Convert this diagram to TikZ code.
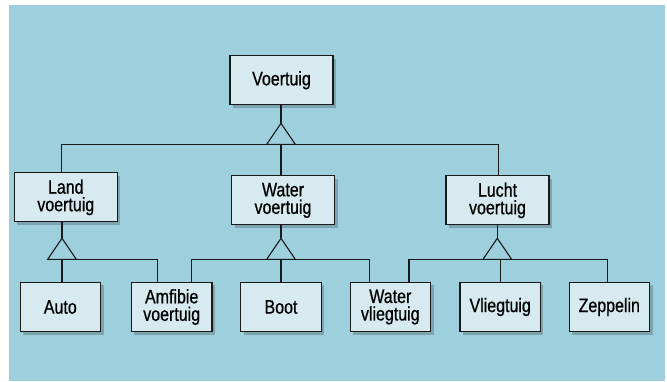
\documentclass[tikz,border=0pt]{standalone}
\usepackage{fontspec}
\setmainfont{Liberation Sans}[FakeStretch=0.82, FakeBold=0.7]
\definecolor{mybg}{HTML}{9DCFDC}
\definecolor{myboxfill}{HTML}{D6EAF0}
\usetikzlibrary{shadows, calc}
\tikzset{
	classnode/.style={
			rectangle,
			draw=black!90,
			line width=1.1pt,
			fill=myboxfill,
			drop shadow={shadow xshift=3pt, shadow yshift=-3pt, fill=black, opacity=0.2},
			minimum width=103pt,
			minimum height=49pt,
			inner sep=0pt,
			align=center,
			font=\fontsize{19.5pt}{17.5pt}\selectfont
		},
	leafnode/.style={
			classnode,
			minimum width=80.5pt,
			minimum height=49.7pt
		},
	genline/.style={
			draw=black!90,
			line width=1.1pt
		}
}
\begin{document}
\begin{tikzpicture}[x=1pt, y=-1pt]
\useasboundingbox (0,0) rectangle (667,381);
\fill[mybg] (9,5) rectangle (665,381);

\node[classnode] (vTop) at (281.5,80.3) {Voertuig};
\node[classnode] (vLand) at (65.8,197.4) {Land\\voertuig};
\node[classnode] (vWater) at (283,200.4) {Water\\voertuig};
\node[classnode] (vLucht) at (497.5,200.4) {Lucht\\voertuig};

\node[leafnode] (vAuto) at (60.3,307) {Auto};
\node[leafnode] (vAmfibie) at (171.7,307) {Amfibie\\voertuig};
\node[leafnode] (vBoot) at (281,307) {Boot};
\node[leafnode] (vWvlieg) at (390.3,307) {Water\\vliegtuig};
\node[leafnode] (vVlieg) at (500.2,307) {Vliegtuig};
\node[leafnode] (vZeppelin) at (609.3,307) {Zeppelin};

% generalisation triangles
\coordinate (gTop) at (281,123.3);
\coordinate (bTop) at (281,144.3);
\coordinate (gLand) at (62,238.3);
\coordinate (bLand) at (62,259.3);
\coordinate (gWater) at (281,238.3);
\coordinate (bWater) at (281,259.3);
\coordinate (gLucht) at (497.3,238.3);
\coordinate (bLucht) at (497.3,259.3);

\draw[genline] (vTop.south -| gTop) -- (gTop);
\draw[genline] (gTop) -- ++(-14.3,21) -- ++(28.6,0) -- cycle;
\draw[genline] ([xshift=-4pt]vLand.north) |- (bTop) -| ([xshift=1pt]vLucht.north);
\draw[genline] (vWater.north -| bTop) -- (bTop);

\draw[genline] (vLand.south -| gLand) -- (gLand);
\draw[genline] (gLand) -- ++(-14.3,21) -- ++(28.6,0) -- cycle;
\draw[genline] (vAuto.north -| bLand) -- (bLand) -| ([xshift=-14pt]vAmfibie.north);

\draw[genline] (vWater.south -| gWater) -- (gWater);
\draw[genline] (gWater) -- ++(-14.3,21) -- ++(28.6,0) -- cycle;
\draw[genline] ([xshift=20pt]vAmfibie.north) |- (bWater) -| ([xshift=-21pt]vWvlieg.north);
\draw[genline] (vBoot.north -| bWater) -- (bWater);

\draw[genline] (vLucht.south -| gLucht) -- (gLucht);
\draw[genline] (gLucht) -- ++(-14.3,21) -- ++(28.6,0) -- cycle;
\draw[genline] ([xshift=18.7pt]vWvlieg.north) |- (bLucht) -| ([xshift=-1.6pt]vZeppelin.north);
\draw[genline] (vVlieg.north) -- (vVlieg.north |- bLucht);
\end{tikzpicture}
\end{document}
